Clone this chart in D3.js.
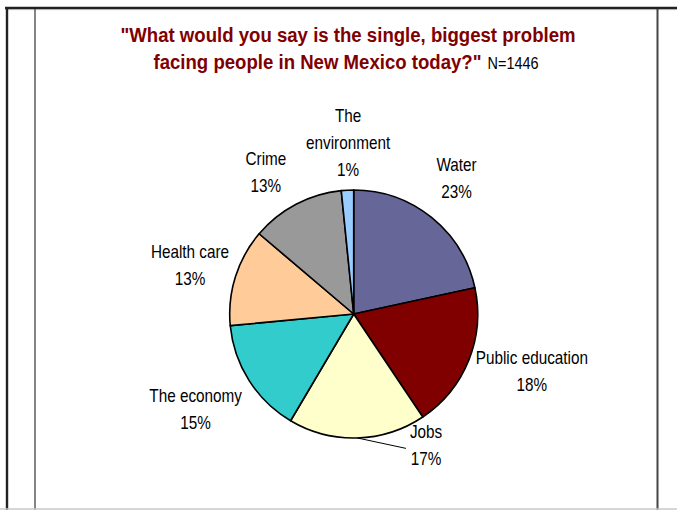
<!DOCTYPE html>
<html>
<head>
<meta charset="utf-8">
<script src="https://cdn.jsdelivr.net/npm/d3@7/dist/d3.min.js"></script>
<style>
  html, body { margin: 0; padding: 0; background: #fff; }
  svg { display: block; }
  text { font-family: "Liberation Sans", Arial, sans-serif; }
</style>
</head>
<body>
<script>
// ---- data ----
const categories = ["Water", "Public education", "Jobs", "The economy", "Health care", "Crime", "The environment"];
const shares = [21.6, 19.0, 17.9, 15.0, 12.7, 12.2, 1.6];          // slice sizes as drawn
const percentLabels = ["23%", "18%", "17%", "15%", "13%", "13%", "1%"];
const colors = ["#666699", "#800000", "#FFFFCC", "#33CCCC", "#FFCC99", "#999999", "#99CCFF"];
const titleLine1 = "\"What would you say is the single, biggest problem";
const titleLine2 = "facing people in New Mexico today?\"";
const sampleNote = "N=1446";

// ---- layout ----
const W = 677, H = 510;
const cx = 353.7, cy = 314, R = 124;
const sx = 0.85;           // horizontal squeeze of the label glyphs
const labelSize = 18;
const lineH = 27, gap = 10;
const wrapped = { "The environment": ["The", "environment"] };
// small label nudges (Excel-style placement), Jobs label was dragged and gets a leader line
const nudge = {
  "Water": [0, -8], "Public education": [-2, -15], "Jobs": [68, -25], "The economy": [-2, -4],
  "Health care": [6, 5], "Crime": [-12, 3], "The environment": [3, 0]
};
const leader = { "Jobs": true };

const svg = d3.select("body").append("svg").attr("width", W).attr("height", H);
svg.append("rect").attr("width", W).attr("height", H).attr("fill", "#fff");

// frame
svg.append("line").attr("x1", 5).attr("x2", W).attr("y1", 7.8).attr("y2", 7.8).attr("stroke", "#222").attr("stroke-width", 2.2);
svg.append("line").attr("x1", 5).attr("x2", W).attr("y1", 9.6).attr("y2", 9.6).attr("stroke", "#aaa").attr("stroke-width", 1);
svg.append("line").attr("x1", 7).attr("x2", 7).attr("y1", 7).attr("y2", H).attr("stroke", "#222").attr("stroke-width", 2.4);
svg.append("line").attr("x1", 35).attr("x2", 35).attr("y1", 9).attr("y2", H).attr("stroke", "#333").attr("stroke-width", 1.2);
svg.append("line").attr("x1", 657.5).attr("x2", 657.5).attr("y1", 9).attr("y2", H).attr("stroke", "#444").attr("stroke-width", 2);
svg.append("line").attr("x1", 0).attr("x2", W).attr("y1", 509).attr("y2", 509).attr("stroke", "#c8c8c8").attr("stroke-width", 1.5);

function squeezed(g, str, x, y, opts) {
  return g.append("text")
    .attr("transform", `translate(${x},${y}) scale(${opts.sx},1)`)
    .attr("font-size", opts.size)
    .attr("font-weight", opts.weight || "normal")
    .attr("fill", opts.fill || "#000")
    .attr("text-anchor", opts.anchor || "start")
    .text(str);
}

// title
const tsx = 0.886;
squeezed(svg, titleLine1, 348, 42, { sx: tsx, size: 21, weight: "bold", fill: "#800000", anchor: "middle" });
{
  const g = svg.append("g");
  const a = squeezed(g, titleLine2, 0, 69, { sx: tsx, size: 21, weight: "bold", fill: "#800000" });
  const wa = a.node().getComputedTextLength() * tsx;
  const b = squeezed(g, sampleNote, wa + 6, 69, { sx: 0.85, size: 17, fill: "#000" });
  const wb = b.node().getComputedTextLength() * 0.85;
  const total = wa + 6 + wb;
  g.attr("transform", `translate(${346 - total / 2},0)`);
}

// pie
const pie = d3.pie().sort(null).value(d => d).startAngle(0).endAngle(2 * Math.PI);
const arcs = pie(shares);
const arc = d3.arc().innerRadius(0).outerRadius(R);
const pg = svg.append("g").attr("transform", `translate(${cx},${cy})`);
pg.selectAll("path").data(arcs).join("path")
  .attr("d", arc)
  .attr("fill", (d, i) => colors[i])
  .attr("stroke", "#000")
  .attr("stroke-width", 1.6)
  .attr("stroke-linejoin", "round");

// labels
arcs.forEach((d, i) => {
  const name = categories[i];
  const lines = (wrapped[name] || [name]).concat([percentLabels[i]]);
  const g = svg.append("g");
  const texts = lines.map(s => squeezed(g, s, 0, 0, { sx: sx, size: labelSize, anchor: "middle" }));
  const w = d3.max(texts, t => t.node().getComputedTextLength()) * sx;
  const h = (lines.length - 1) * lineH + 17;
  const th = (d.startAngle + d.endAngle) / 2;
  const s = Math.sin(th), c = Math.cos(th);
  const ext = Math.abs(s) * w / 2 + Math.abs(c) * h / 2;
  const dist = R + gap + ext;
  let lx = cx + s * dist, ly = cy - c * dist;
  const nd = nudge[name] || [0, 0];
  lx += nd[0]; ly += nd[1];
  const b0 = ly - (lines.length - 1) * lineH / 2 + 6;
  texts.forEach((t, k) => t.attr("transform", `translate(${lx},${b0 + k * lineH}) scale(${sx},1)`));
  if (leader[name]) {
    svg.append("line")
      .attr("x1", cx + s * R).attr("y1", cy - c * R)
      .attr("x2", lx - w / 2 - 4).attr("y2", ly + 3)
      .attr("stroke", "#000").attr("stroke-width", 1);
  }
});
</script>
</body>
</html>
